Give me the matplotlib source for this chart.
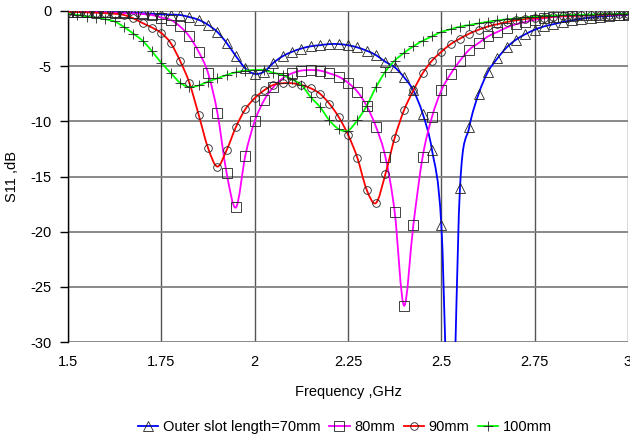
import numpy as np
import matplotlib
matplotlib.use("Agg")
import matplotlib.pyplot as plt
from matplotlib.path import Path
from matplotlib.patches import PathPatch
from matplotlib.lines import Line2D

plt.rcParams['font.family'] = ['Liberation Sans', 'DejaVu Sans']
plt.rcParams['axes.unicode_minus'] = False

freq = np.round(np.arange(1.5, 3.0001, 0.025), 3)

s11_70mm = [-0.05, -0.05, -0.05, -0.08, -0.1, -0.1, -0.12, -0.15, -0.2, -0.25,
            -0.3, -0.33, -0.36, -0.55, -0.8, -1.25, -1.9, -2.9, -4.1, -5.2,
            -5.7, -5.5, -4.7, -4.1, -3.7, -3.4, -3.2, -3.1, -3.0, -3.0,
            -3.1, -3.3, -3.6, -4.0, -4.6, -5.1, -6.0, -7.2, -9.3, -12.6,
            -19.4, -42.0, -16.0, -10.5, -7.5, -5.5, -4.3, -3.3, -2.6, -2.1,
            -1.7, -1.4, -1.2, -1.0, -0.85, -0.7, -0.6, -0.5, -0.45, -0.4, -0.35]

s11_80mm = [-0.1, -0.1, -0.1, -0.12, -0.12, -0.15, -0.18, -0.22, -0.28, -0.36,
            -0.6, -0.8, -1.4, -2.3, -3.7, -5.6, -9.2, -14.7, -17.8, -13.1,
            -10.0, -8.1, -6.9, -6.1, -5.65, -5.4, -5.35, -5.4, -5.65, -5.95,
            -6.5, -7.3, -8.6, -10.5, -13.2, -18.2, -26.7, -19.4, -13.2, -9.6,
            -7.2, -5.7, -4.5, -3.5, -2.9, -2.3, -1.9, -1.5, -1.2, -1.0,
            -0.8, -0.66, -0.55, -0.5, -0.45, -0.4, -0.4, -0.38, -0.35, -0.33, -0.3]

s11_90mm = [-0.1, -0.1, -0.12, -0.15, -0.2, -0.25, -0.36, -0.67, -1.1, -1.5,
            -2.0, -2.9, -4.5, -6.5, -9.4, -12.4, -14.1, -12.6, -10.5, -8.9,
            -7.9, -7.2, -6.7, -6.55, -6.55, -6.7, -7.0, -7.5, -8.4, -9.6,
            -11.2, -13.3, -16.2, -17.4, -14.8, -11.5, -9.0, -7.2, -5.65, -4.5,
            -3.7, -3.0, -2.5, -2.05, -1.7, -1.4, -1.2, -1.0, -0.85, -0.72,
            -0.65, -0.6, -0.5, -0.45, -0.43, -0.4, -0.36, -0.34, -0.32, -0.3, -0.3]

s11_100mm = [-0.25, -0.35, -0.5, -0.6, -0.75, -0.95, -1.45, -2.05, -2.7, -3.65,
             -4.7, -5.6, -6.5, -6.9, -6.75, -6.4, -6.1, -5.8, -5.55, -5.4,
             -5.35, -5.35, -5.6, -5.8, -6.2, -6.7, -7.8, -8.7, -9.9, -10.7,
             -10.85, -9.9, -8.6, -6.9, -5.5, -4.5, -3.8, -3.2, -2.7, -2.3,
             -1.9, -1.65, -1.42, -1.27, -1.12, -0.97, -0.85, -0.76, -0.67, -0.58,
             -0.51, -0.45, -0.42, -0.38, -0.36, -0.34, -0.32, -0.3, -0.28, -0.26, -0.25]

labels = ['Outer slot length=70mm', '80mm', '90mm', '100mm']
x_ticks = [1.5, 1.75, 2.0, 2.25, 2.5, 2.75, 3.0]
x_tick_labels = ['1.5', '1.75', '2', '2.25', '2.5', '2.75', '3']
y_ticks = [0, -5, -10, -15, -20, -25, -30]

series = [s11_70mm, s11_80mm, s11_90mm, s11_100mm]
colors = ['#0000FF', '#FF00FF', '#FF0000', '#00FF00']
markers = ['^', 's', 'o', '+']
msizes = [6.5, 6.5, 5.5, 6.5]


def smooth_path(x, y):
    """Smoothed line through the data points (Excel-like cardinal spline)."""
    x = np.asarray(x, float)
    y = np.asarray(y, float)
    n = len(x)
    verts = [(x[0], y[0])]
    codes = [Path.MOVETO]
    for i in range(n - 1):
        i0 = max(i - 1, 0)
        i3 = min(i + 2, n - 1)
        c1 = (x[i] + (x[i + 1] - x[i0]) / 6.0, y[i] + (y[i + 1] - y[i0]) / 6.0)
        c2 = (x[i + 1] - (x[i3] - x[i]) / 6.0, y[i + 1] - (y[i3] - y[i]) / 6.0)
        verts += [c1, c2, (x[i + 1], y[i + 1])]
        codes += [Path.CURVE4] * 3
    return Path(verts, codes)


fig = plt.figure(figsize=(6.3, 4.37), dpi=100)
ax = fig.add_axes([68/630, 1 - 342/437, (628-68)/630, (342-11)/437])

handles = []
for y, c, m, ms, lab in zip(series, colors, markers, msizes, labels):
    ax.add_patch(PathPatch(smooth_path(freq, y), fc='none', ec=c, lw=1.3, zorder=3))
    ax.plot(freq, y, ls='none', marker=m, ms=ms, mfc='none',
            mec='#222222', mew=0.6, zorder=4)
    handles.append(Line2D([], [], color=c, lw=1.3, marker=m, ms=ms, mfc='none',
                          mec='#222222', mew=0.6, label=lab))

ax.set_xlim(1.5, 3.0)
ax.set_ylim(-30, 0)
ax.set_xticks(x_ticks)
ax.set_xticklabels(x_tick_labels)
ax.set_yticks(y_ticks)
ax.tick_params(axis='x', length=0, pad=9, labelsize=10.5)
ax.tick_params(axis='y', length=6, width=1, direction='out', pad=6, labelsize=10.5)
ax.grid(axis='y', color='#808080', lw=1.3)
ax.grid(axis='x', color='#555555', lw=1.0)
for s in ['top', 'right', 'bottom']:
    ax.spines[s].set_visible(False)
ax.spines['left'].set_color('black')
ax.spines['left'].set_linewidth(1.0)

ax.set_xlabel('Frequency ,GHz', fontsize=10.5, labelpad=12)
ax.set_ylabel('S11 ,dB', fontsize=10.5, labelpad=8)

fig.legend(handles=handles, loc='center', bbox_to_anchor=(345/630, 1 - 427/437), ncol=4,
           frameon=False, fontsize=10.5, handlelength=1.4, handletextpad=0.3,
           columnspacing=0.6, borderpad=0)

fig.savefig('out.png', dpi=100)
